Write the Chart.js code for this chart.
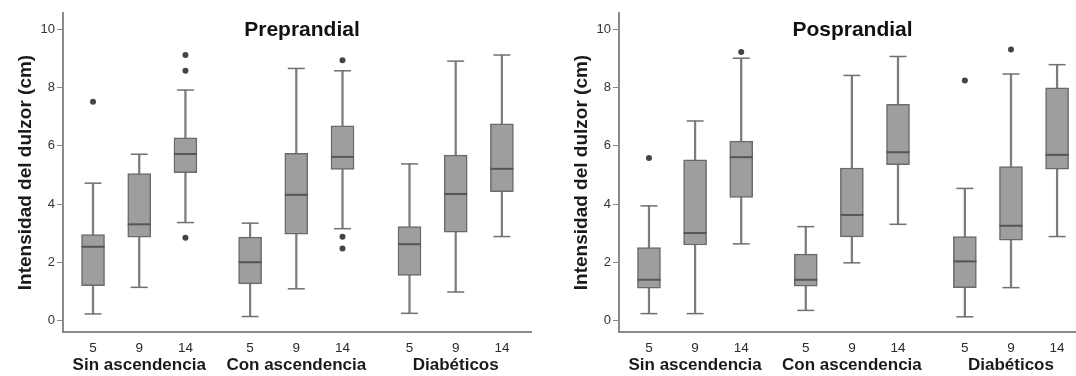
<!DOCTYPE html>
<html>
<head>
<meta charset="utf-8">
<script src="https://cdn.jsdelivr.net/npm/chart.js@4.4.1/dist/chart.umd.min.js"></script>
<style>
  html, body { margin: 0; padding: 0; background: #ffffff; }
  body { width: 1076px; height: 376px; position: relative; overflow: hidden; }
  canvas { position: absolute; top: 0; }
  #pre { left: 0; }
  #pos { left: 556px; }
</style>
</head>
<body>
<canvas id="pre" width="538" height="376"></canvas>
<canvas id="pos" width="520" height="376"></canvas>
<script>
// categories (edad en años) and groups
const tickLabels = ['5', '9', '14', '5', '9', '14', '5', '9', '14'];
const xPositions = [0, 1, 2, 3.4, 4.4, 5.4, 6.85, 7.85, 8.85];
const groupNames = ['Sin ascendencia', 'Con ascendencia', 'Diabéticos'];
const groupCenters = [1, 4.4, 7.85];
const yTicks = [0, 2, 4, 6, 8, 10];

// Preprandial
const preLow = [0.24, 1.15, 3.37, 0.15, 1.10, 3.16, 0.26, 0.99, 2.89];
const preQ1 = [1.21, 2.87, 5.08, 1.27, 2.97, 5.19, 1.56, 3.04, 4.43];
const preMed = [2.54, 3.31, 5.72, 2.01, 4.32, 5.62, 2.63, 4.35, 5.21];
const preQ3 = [2.96, 5.05, 6.27, 2.87, 5.74, 6.68, 3.23, 5.68, 6.75];
const preHigh = [4.72, 5.71, 7.91, 3.35, 8.65, 8.57, 5.38, 8.90, 9.11];
const preOut = [[7.51], [], [9.11, 8.57, 2.85], [], [], [8.93, 2.88, 2.48], [], [], []];

// Posprandial
const posLow = [0.25, 0.25, 2.64, 0.36, 1.99, 3.31, 0.14, 1.14, 2.89];
const posQ1 = [1.12, 2.60, 4.23, 1.19, 2.88, 5.35, 1.14, 2.77, 5.20];
const posMed = [1.41, 3.01, 5.61, 1.41, 3.63, 5.78, 2.04, 3.26, 5.69];
const posQ3 = [2.51, 5.52, 6.16, 2.29, 5.24, 7.42, 2.89, 5.29, 7.99];
const posHigh = [3.94, 6.85, 9.00, 3.23, 8.41, 9.06, 4.54, 8.46, 8.78];
const posOut = [[5.58], [], [9.21], [], [], [], [8.24], [9.30], []];

const FONT = `"Liberation Sans", Arial, sans-serif`;
const AXIS_GREY = `#8a8a8a`;

const panelTitle = {
  id: `panelTitle`,
  afterDraw(chart, args, opts) {
    const {ctx, chartArea} = chart;
    ctx.save();
    ctx.font = `bold 21px ${FONT}`;
    ctx.fillStyle = `#111111`;
    ctx.textAlign = `center`;
    ctx.textBaseline = `middle`;
    ctx.fillText(opts.text, (chartArea.left + chartArea.right) / 2 + 5, 30);
    ctx.restore();
  }
};

// keep the x scales from shrinking the plot for their end labels
const noSidePadding = (scale) => {
  scale.paddingLeft = 0;
  scale.paddingRight = 0;
};

const makeBoxChart = (id, title, low, q1, med, q3, high, outliers, xMax, padRight) => {
  const points = (values) => xPositions.map((x, i) => ({x, y: values[i]}));

  return new Chart(document.getElementById(id), {
    type: `bar`,
    plugins: [panelTitle],
    data: {
      datasets: [
        {
          // whiskers
          data: xPositions.map((x, i) => ({x, y: [low[i], high[i]]})),
          backgroundColor: `#7c7c7c`,
          barThickness: 1.6,
          grouped: false,
          order: 4
        },
        {
          // boxes
          data: xPositions.map((x, i) => ({x, y: [q1[i], q3[i]]})),
          backgroundColor: `#9e9e9e`,
          borderColor: `#6a6a6a`,
          borderWidth: 1.5,
          borderSkipped: false,
          barThickness: 23,
          grouped: false,
          order: 3
        },
        {
          // whisker caps
          type: `scatter`,
          data: points(low).concat(points(high)),
          pointStyle: `line`,
          radius: 8.5,
          borderColor: `#707070`,
          borderWidth: 1.5,
          order: 2
        },
        {
          // medians
          type: `scatter`,
          data: points(med),
          pointStyle: `line`,
          radius: 11.5,
          borderColor: `#555555`,
          borderWidth: 2,
          order: 1
        },
        {
          // outliers
          type: `scatter`,
          data: xPositions.flatMap((x, i) => outliers[i].map((y) => ({x, y}))),
          pointStyle: `circle`,
          radius: 3,
          backgroundColor: `#444444`,
          borderWidth: 0,
          order: 0
        }
      ]
    },
    options: {
      responsive: false,
      animation: false,
      events: [],
      layout: {
        autoPadding: false,
        padding: {top: 13, right: padRight, left: 0, bottom: 0}
      },
      plugins: {
        legend: {display: false},
        tooltip: {enabled: false},
        panelTitle: {text: title}
      },
      scales: {
        x: {
          type: `linear`,
          position: `bottom`,
          weight: 0,
          min: -0.65,
          max: xMax,
          offset: false,
          grid: {display: false, drawTicks: false},
          border: {display: true, color: AXIS_GREY, width: 2},
          afterBuildTicks: (scale) => {
            scale.ticks = xPositions.map((value) => ({value}));
          },
          afterFit: (scale) => {
            scale.height = 22;
            noSidePadding(scale);
          },
          ticks: {
            autoSkip: false,
            maxRotation: 0,
            padding: 8,
            color: `#2a2a2a`,
            font: {family: FONT, size: 13.5},
            callback: (value, index) => tickLabels[index]
          }
        },
        xg: {
          type: `linear`,
          position: `bottom`,
          weight: 1,
          min: -0.65,
          max: xMax,
          offset: false,
          grid: {display: false, drawTicks: false},
          border: {display: false},
          afterBuildTicks: (scale) => {
            scale.ticks = groupCenters.map((value) => ({value}));
          },
          afterFit: (scale) => {
            scale.height = 22;
            noSidePadding(scale);
          },
          ticks: {
            autoSkip: false,
            maxRotation: 0,
            padding: 1,
            color: `#1a1a1a`,
            font: {family: FONT, size: 17, weight: `bold`},
            callback: (value, index) => groupNames[index]
          }
        },
        y: {
          min: -0.38,
          max: 10.55,
          grid: {
            drawOnChartArea: false,
            drawTicks: true,
            tickLength: 6,
            color: AXIS_GREY
          },
          border: {display: true, color: AXIS_GREY, width: 2},
          afterBuildTicks: (scale) => {
            scale.ticks = yTicks.map((value) => ({value}));
          },
          afterFit: (scale) => {
            scale.width = 63;
          },
          ticks: {
            padding: 2,
            color: `#333333`,
            font: {family: FONT, size: 13}
          },
          title: {
            display: true,
            text: `Intensidad del dulzor (cm)`,
            color: `#1a1a1a`,
            font: {family: FONT, size: 19, weight: `bold`},
            padding: {top: 14, bottom: 0}
          }
        }
      }
    }
  });
};

makeBoxChart(`pre`, `Preprandial`, preLow, preQ1, preMed, preQ3, preHigh, preOut, 9.48, 7);
makeBoxChart(`pos`, `Posprandial`, posLow, posQ1, posMed, posQ3, posHigh, posOut, 9.26, 0);
</script>
</body>
</html>
